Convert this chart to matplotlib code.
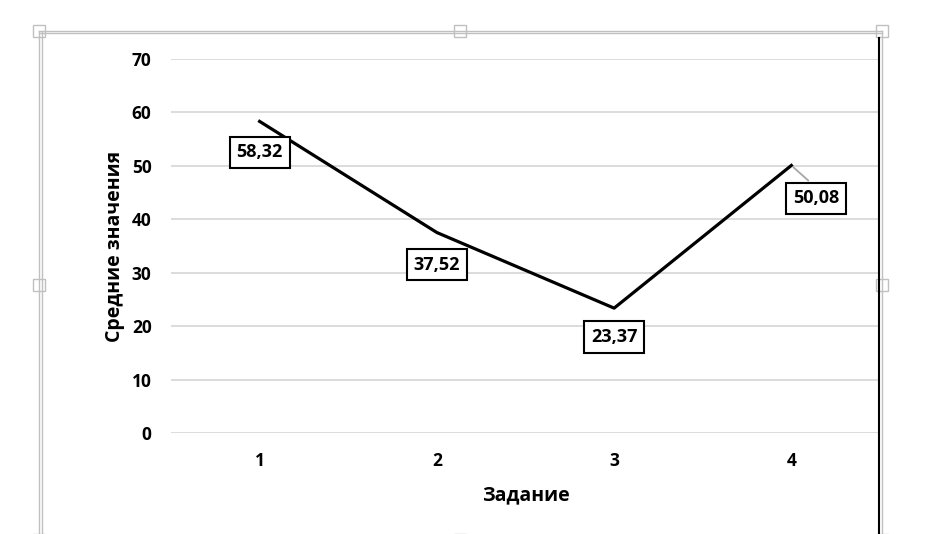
import matplotlib.pyplot as plt
from matplotlib.patches import Rectangle
from matplotlib.lines import Line2D

# Data
tasks = [1, 2, 3, 4]
means = [58.32, 37.52, 23.37, 50.08]
labels = ["58,32", "37,52", "23,37", "50,08"]
# label offsets in pixels (dx, dy) from the point
offsets = [(0, -31), (0, -32), (0, -29), (25, -33)]
y_ticks = [0, 10, 20, 30, 40, 50, 60, 70]

plt.rcParams['font.family'] = ['Open Sans', 'DejaVu Sans']
plt.rcParams['font.weight'] = 'bold'

W, H = 927, 534
fig = plt.figure(figsize=(W / 100, H / 100), dpi=100)


def fx(x):
    return x / W


def fy(y):
    return 1 - y / H


ax = fig.add_axes([fx(171), fy(433), fx(880) - fx(171), fy(59) - fy(433)])

# Line
ax.plot(tasks, means, color='black', linewidth=2.3, zorder=3)

# Data labels
for i, (x, y) in enumerate(zip(tasks, means)):
    dx, dy = offsets[i]
    ax.annotate(labels[i], xy=(x, y), xytext=(dx, dy), textcoords='offset pixels',
                ha='center', va='center', fontsize=13, fontweight='bold',
                bbox=dict(boxstyle='square,pad=0.38', fc='white', ec='black', lw=1.5),
                zorder=5)
    if dx != 0:
        ax.annotate('', xy=(x, y), xytext=(dx - 6, dy + 16), textcoords='offset pixels',
                    arrowprops=dict(arrowstyle='-', color='#a6a6a6', lw=1.3), zorder=4)

ax.set_xlim(0.5, 4.5)
ax.set_ylim(0, 70)
ax.set_yticks(y_ticks)
ax.set_xticks(tasks)
ax.set_xticklabels([str(t) for t in tasks])
ax.tick_params(length=0, labelsize=12.5, pad=14)
ax.tick_params(axis='y', pad=14)
for lbl in ax.get_xticklabels() + ax.get_yticklabels():
    lbl.set_fontweight('bold')
ax.grid(axis='y', color='#d9d9d9', linewidth=1.3)
ax.set_axisbelow(True)
for s in ax.spines.values():
    s.set_visible(False)

ax.set_xlabel('Задание', fontsize=14, fontweight='bold', labelpad=11)
ax.set_ylabel('Средние значения', fontsize=14, fontweight='bold', labelpad=5)

# Selection frame around the chart
gray = '#c0c0c0'
for x in (39, 42):
    fig.add_artist(Line2D([fx(x), fx(x)], [fy(31), 0], color=gray, lw=1))
fig.add_artist(Line2D([fx(882), fx(882)], [fy(31), 0], color=gray, lw=1))
fig.add_artist(Line2D([fx(879), fx(879)], [fy(38), 0], color='black', lw=1.5))
for y in (31, 33):
    fig.add_artist(Line2D([fx(39), fx(882)], [fy(y), fy(y)], color=gray, lw=1))

# handles
for cx, cy in [(39, 31), (460, 31), (882, 31), (39, 285), (882, 285), (39, 540), (460, 540), (882, 540)]:
    fig.add_artist(Rectangle((fx(cx - 6), fy(cy + 6)), 12 / W, 12 / H, fc='white', ec=gray, lw=1))

fig.savefig('out.png', dpi=100)
